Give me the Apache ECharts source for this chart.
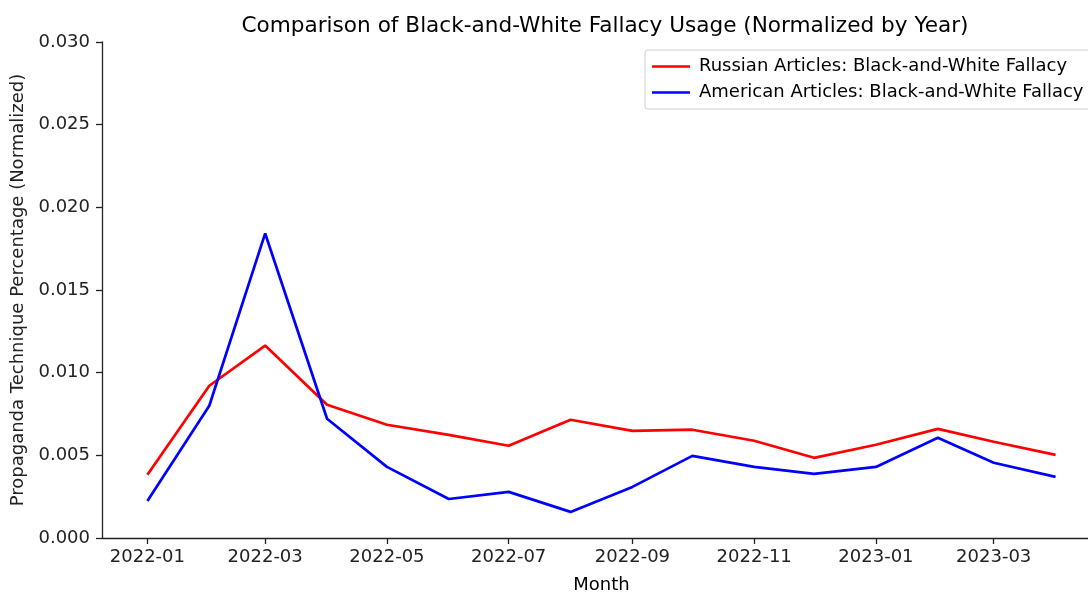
<!DOCTYPE html>
<html>
<head>
<meta charset="utf-8">
<script src="https://cdn.jsdelivr.net/npm/echarts@6/dist/echarts.min.js"></script>
<style>
html,body{margin:0;padding:0;background:#fff;}
#chart{width:1088px;height:592px;}
</style>
</head>
<body>
<div id="chart"></div>
<script>
const months = ['2022-01','2022-02','2022-03','2022-04','2022-05','2022-06','2022-07','2022-08','2022-09','2022-10','2022-11','2022-12','2023-01','2023-02','2023-03','2023-04'];
const russian = [0.00382,0.00921,0.01164,0.00806,0.00685,0.00624,0.00558,0.00715,0.00648,0.00655,0.00588,0.00485,0.00564,0.0066,0.00582,0.00503];
const american = [0.00224,0.0080,0.01842,0.00721,0.0043,0.00236,0.00279,0.00158,0.00309,0.00497,0.0043,0.00388,0.0043,0.00606,0.00455,0.0037];
const tickMonths = ['2022-01','2022-03','2022-05','2022-07','2022-09','2022-11','2023-01','2023-03'];

const toTs = m => { const [y, mo] = m.split('-').map(Number); return Date.UTC(y, mo - 1, 1); };
const t0 = toTs(months[0]);
const tN = toTs(months[months.length - 1]);
const pad = 0.05 * (tN - t0);

const FONT = 'DejaVu Sans';
const chart = echarts.init(document.getElementById('chart'), null, {renderer: 'canvas'});
chart.setOption({
  animation: false,
  backgroundColor: '#fff',
  title: {
    text: 'Comparison of Black-and-White Fallacy Usage (Normalized by Year)',
    left: 600, top: 10, textAlign: 'center',
    textStyle: {fontFamily: FONT, fontSize: 21.6, fontWeight: 'normal', color: '#000'}
  },
  legend: {
    orient: 'vertical', left: 645, top: 50,
    icon: 'rect', itemWidth: 38, itemHeight: 2.7, itemGap: 7,
    padding: [7, 10, 7, 7],
    backgroundColor: '#fff', borderColor: '#d0d0d0', borderWidth: 1, borderRadius: 3,
    textStyle: {fontFamily: FONT, fontSize: 18, color: '#000', lineHeight: 19, padding: [0,0,0,4]},
    data: ['Russian Articles: Black-and-White Fallacy', 'American Articles: Black-and-White Fallacy']
  },
  grid: {left: 102, top: 42, bottom: 54, right: -13, containLabel: false, outerBoundsMode: 'none'},
  xAxis: {
    type: 'value', min: t0 - pad, max: tN + pad, scale: true,
    name: 'Month', nameLocation: 'middle', nameGap: 38,
    nameTextStyle: {fontFamily: FONT, fontSize: 18, color: '#000'},
    axisLine: {show: true, lineStyle: {color: '#222', width: 1.3}},
    axisTick: {show: true, length: 6, lineStyle: {color: '#222', width: 1.3}, customValues: tickMonths.map(toTs)},
    axisLabel: {
      fontFamily: FONT, fontSize: 18, color: '#222', margin: 10,
      customValues: tickMonths.map(toTs),
      formatter: v => { const d = new Date(v); return d.getUTCFullYear() + '-' + String(d.getUTCMonth() + 1).padStart(2, '0'); }
    },
    splitLine: {show: false}
  },
  yAxis: {
    type: 'value', min: 0, max: 0.03, interval: 0.005,
    name: 'Propaganda Technique Percentage (Normalized)', nameLocation: 'middle', nameGap: 74,
    nameTextStyle: {fontFamily: FONT, fontSize: 18, color: '#222'},
    axisLine: {show: true, lineStyle: {color: '#222', width: 1.3}},
    axisTick: {show: true, length: 6, lineStyle: {color: '#222', width: 1.3}},
    axisLabel: {fontFamily: FONT, fontSize: 18, color: '#222', margin: 12, formatter: v => v.toFixed(3)},
    splitLine: {show: false}
  },
  series: [
    {
      name: 'Russian Articles: Black-and-White Fallacy', type: 'line', symbol: 'none',
      lineStyle: {color: '#ff0000', width: 2.7}, itemStyle: {color: '#ff0000'},
      data: months.map((m, i) => [toTs(m), russian[i]])
    },
    {
      name: 'American Articles: Black-and-White Fallacy', type: 'line', symbol: 'none',
      lineStyle: {color: '#0000ff', width: 2.7}, itemStyle: {color: '#0000ff'},
      data: months.map((m, i) => [toTs(m), american[i]])
    }
  ]
});
</script>
</body>
</html>
